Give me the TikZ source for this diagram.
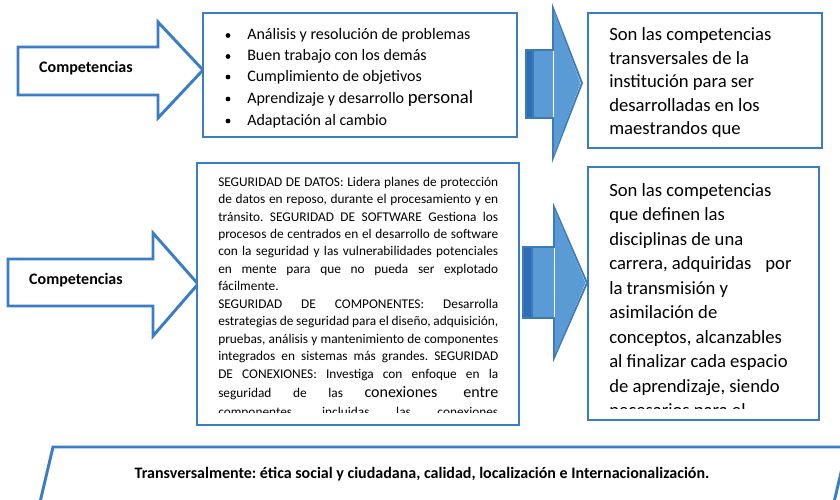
\documentclass[tikz,border=0pt]{standalone}
\usepackage{fontspec}
\setmainfont{Carlito}
\usetikzlibrary{fit}
\definecolor{outl}{HTML}{3B7DC4}
\definecolor{afill}{HTML}{5B9BD5}
\definecolor{aline}{HTML}{3C7AB8}
\definecolor{adark}{HTML}{2F6EB5}
\frenchspacing
\tikzset{
  boxframe/.style={draw=outl, line width=1.9pt, fill=white, inner sep=0pt},
  whitearrow/.style={draw=outl, line width=2.2pt, fill=white, line join=miter},
  bluearrow/.style={draw=aline, line width=1.4pt, fill=afill, line join=miter},
  ln/.style={anchor=base west, inner sep=0pt},
  listfont/.style={font=\fontsize{12}{14}\selectfont},
  bigfont/.style={font=\fontsize{14}{17}\selectfont},
  midfont/.style={font=\fontsize{10}{12}\selectfont},
  labelfont/.style={font=\bfseries\fontsize{12}{14}\selectfont, anchor=base, inner sep=0pt},
  dot/.style={circle, fill=black, inner sep=0pt, minimum size=3.6pt}
}
\newcommand{\mjust}[1]{\hbox to 210pt{#1}}
\begin{document}
\begin{tikzpicture}[x=0.75pt,y=-0.75pt]
\useasboundingbox (0,0) rectangle (840,500);
\clip (0,0) rectangle (840,500);

% ---------- row 1 ----------
\draw[whitearrow] (18,47) -- (158,47) -- (158,22) -- (203,70) -- (158,118) -- (158,95) -- (18,95) -- cycle;
\node[labelfont] (comp1) at (86,72.5) {Competencias};

\node[boxframe, fit={(203,13) (517,137)}] (box1) {};
\begin{scope}
\clip (205,15) rectangle (515,128);
\node[dot] (d1) at (228,35.5) {};
\node[dot] (d2) at (228,56.5) {};
\node[dot] (d3) at (228,77) {};
\node[dot] (d4) at (228,99) {};
\node[dot] (d5) at (228,121) {};
\node[ln, listfont] (l1) at (247,39) {Análisis y resolución de problemas};
\node[ln, listfont] (l2) at (247,60.5) {Buen trabajo con los demás};
\node[ln, listfont] (l3) at (247,81) {Cumplimiento de objetivos};
\node[ln, listfont] (l4) at (247,103) {Aprendizaje y desarrollo {\fontsize{14}{17}\selectfont personal}};
\node[ln, listfont] (l5) at (247,125) {Adaptación al cambio};
\end{scope}

\fill[afill] (526,50) rectangle (553,118);
\fill[adark] (526,50) rectangle (533,118);
\draw[bluearrow, fill=none] (533,50) -- (533,118);
\draw[bluearrow, fill=none] (553,50) -- (553,8) -- (582,83) -- (553,158) -- (553,118) -- (526,118) -- (526,50) -- cycle;
\fill[afill] (554,51) -- (554,10.5) -- (580.5,83) -- (554,155.5) -- (554,117) -- cycle;

\node[boxframe, fit={(588,13) (822,148)}] (box2) {};
\begin{scope}
\clip (590,15) rectangle (820,137);
\node[ln, bigfont] (r1) at (609,40.5) {Son las competencias};
\node[ln, bigfont] (r2) at (609,64) {transversales de la};
\node[ln, bigfont] (r3) at (609,87.5) {institución para ser};
\node[ln, bigfont] (r4) at (609,111) {desarrolladas en los};
\node[ln, bigfont] (r5) at (609,134.5) {maestrandos que};
\end{scope}

% ---------- row 2 ----------
\draw[whitearrow] (8,259) -- (153,259) -- (153,233) -- (198,284) -- (153,336) -- (153,306) -- (8,306) -- cycle;
\node[labelfont] (comp2) at (76,284) {Competencias};

\node[boxframe, fit={(197,163) (519,425)}] (box3) {};
\begin{scope}
\clip (199,165) rectangle (517,412);
\node[ln, midfont] (m1) at (218,186) {\mjust{SEGURIDAD DE DATOS: Lidera planes de protección}};
\node[ln, midfont] (m2) at (218,203.5) {\mjust{de datos en reposo, durante el procesamiento y en}};
\node[ln, midfont] (m3) at (218,221) {\mjust{tránsito. SEGURIDAD DE SOFTWARE Gestiona los}};
\node[ln, midfont] (m4) at (218,238.4) {\mjust{procesos de centrados en el desarrollo de software}};
\node[ln, midfont] (m5) at (218,255.8) {\mjust{con la seguridad y las vulnerabilidades potenciales}};
\node[ln, midfont] (m6) at (218,273.3) {\mjust{en mente para que no pueda ser explotado}};
\node[ln, midfont] (m7) at (218,290.7) {fácilmente.};
\node[ln, midfont] (m8) at (218,308.2) {\mjust{SEGURIDAD DE COMPONENTES: Desarrolla}};
\node[ln, midfont] (m9) at (218,325.6) {\mjust{estrategias de seguridad para el diseño, adquisición,}};
\node[ln, midfont] (m10) at (218,343) {\mjust{pruebas, análisis y mantenimiento de componentes}};
\node[ln, midfont] (m11) at (218,360.5) {\mjust{integrados en sistemas más grandes. SEGURIDAD}};
\node[ln, midfont] (m12) at (218,378) {\mjust{DE CONEXIONES: Investiga con enfoque en la}};
\node[ln, midfont] (m13) at (218,397) {\mjust{seguridad de las {\fontsize{12}{14}\selectfont conexiones entre}}};
\node[ln, midfont] (m14) at (218,416) {\mjust{componentes, incluidas las conexiones}};
\end{scope}

\fill[afill] (523,247) rectangle (554,318);
\fill[adark] (523,247) rectangle (532,318);
\draw[bluearrow, fill=none] (532,247) -- (532,318);
\draw[bluearrow, fill=none] (554,247) -- (554,207) -- (587,283) -- (554,358) -- (554,318) -- (523,318) -- (523,247) -- cycle;
\fill[afill] (555,248) -- (555,210) -- (585.5,283) -- (555,355) -- (555,317) -- cycle;

\node[boxframe, fit={(588,167) (819,420)}] (box4) {};
\begin{scope}
\clip (590,169) rectangle (817,408);
\node[ln, bigfont] (s1) at (609,196) {Son las competencias};
\node[ln, bigfont] (s2) at (609,220.5) {que definen las};
\node[ln, bigfont] (s3) at (609,245) {disciplinas de una};
\node[ln, bigfont] (s4) at (609,269.5) {carrera, adquiridas\hspace{0.75em}por};
\node[ln, bigfont] (s5) at (609,294) {la transmisión y};
\node[ln, bigfont] (s6) at (609,318.5) {asimilación de};
\node[ln, bigfont] (s7) at (609,343) {conceptos, alcanzables};
\node[ln, bigfont] (s8) at (609,367.5) {al finalizar cada espacio};
\node[ln, bigfont] (s9) at (609,392) {de aprendizaje, siendo};
\node[ln, bigfont] (s10) at (609,416.5) {necesarios para el};
\end{scope}

% ---------- bottom ----------
\draw[draw=outl, line width=2.2pt, line join=miter] (37,515) -- (53,447) -- (847,447) -- (831,515);
\node[font=\bfseries\fontsize{12}{14}\selectfont, anchor=base, inner sep=0pt] (bottom) at (422,478)
  {Transversalmente: ética social y ciudadana, calidad, localización e Internacionalización.};
\end{tikzpicture}
\end{document}
